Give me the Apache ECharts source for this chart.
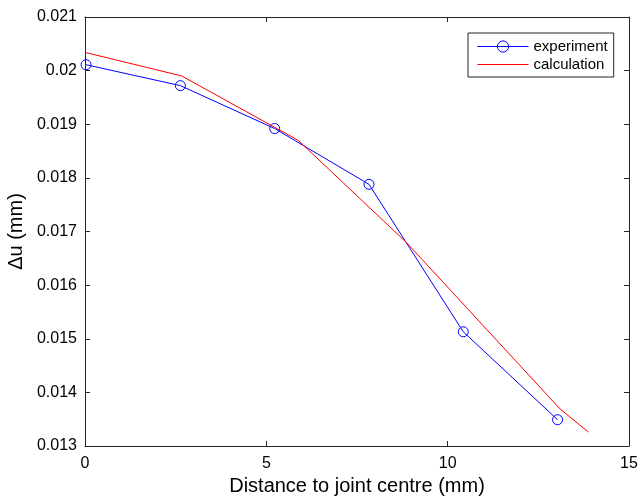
<!DOCTYPE html>
<html>
<head>
<meta charset="utf-8">
<script src="https://cdn.jsdelivr.net/npm/echarts@6/dist/echarts.min.js"></script>
<style>html,body{margin:0;padding:0;background:#fff}#c{width:640px;height:498px}</style>
</head>
<body>
<div id="c"></div>
<script>
var expX = [0.03, 2.63, 5.23, 7.83, 10.43, 13.03];
var expY = [0.02011, 0.01972, 0.01892, 0.01788, 0.01513, 0.01349];
var calcX = [0, 2.67, 5.88, 8.87, 13.1, 13.88];
var calcY = [0.02034, 0.01990, 0.01870, 0.01679, 0.01369, 0.01326];
var xTicks = [0, 5, 10, 15];
var yTicks = [0.013, 0.014, 0.015, 0.016, 0.017, 0.018, 0.019, 0.02, 0.021];

function pairs(xs, ys) { return xs.map(function (x, i) { return [x, ys[i]]; }); }

var font = 'Liberation Sans, Arial, sans-serif';
var axCol = '#262626';
var chart = echarts.init(document.getElementById('c'), null, { renderer: 'canvas' });
var baseX = {
  type: 'value', min: xTicks[0], max: xTicks[xTicks.length - 1], interval: 5,
  axisLine: { show: true, onZero: false, lineStyle: { color: axCol, width: 1 } },
  axisTick: { show: true, inside: true, length: 5, lineStyle: { color: axCol } },
  splitLine: { show: false }
};
var baseY = {
  type: 'value', min: yTicks[0], max: yTicks[yTicks.length - 1], interval: 0.001,
  axisLine: { show: true, onZero: false, lineStyle: { color: axCol, width: 1 } },
  axisTick: { show: true, inside: true, length: 5, lineStyle: { color: axCol } },
  splitLine: { show: false }
};
chart.setOption({
  animation: false,
  backgroundColor: '#fff',
  grid: { left: 85, right: 11, top: 17, bottom: 52, containLabel: false, outerBoundsMode: 'none' },
  legend: {
    orient: 'vertical', left: 468, top: 33,
    padding: [6, 6, 5, 9], itemGap: 3, itemWidth: 51, itemHeight: 14,
    borderColor: '#262626', borderWidth: 1, backgroundColor: '#fff',
    textStyle: { fontFamily: font, fontSize: 15, color: '#000', lineHeight: 15 },
    lineStyle: { width: 1 },
    data: [
      { name: 'experiment', itemStyle: { borderWidth: 1 } },
      { name: 'calculation', itemStyle: { opacity: 0 } }
    ]
  },
  xAxis: [
    Object.assign({}, baseX, {
      position: 'bottom',
      name: 'Distance to joint centre (mm)', nameLocation: 'middle', nameGap: 27,
      nameTextStyle: { fontFamily: font, fontSize: 20, color: '#000' },
      axisLabel: { show: true, margin: 10, fontFamily: font, fontSize: 16, color: '#000' }
    }),
    Object.assign({}, baseX, { position: 'top', axisLabel: { show: false } })
  ],
  yAxis: [
    Object.assign({}, baseY, {
      position: 'left',
      name: 'Δu (mm)', nameLocation: 'middle', nameGap: 55, nameRotate: 90,
      nameTextStyle: { fontFamily: font, fontSize: 20, color: '#000' },
      axisLabel: {
        show: true, margin: 8, fontFamily: font, fontSize: 16, color: '#000',
        formatter: function (v) { return String(+v.toFixed(3)); }
      }
    }),
    Object.assign({}, baseY, { position: 'right', axisLabel: { show: false } })
  ],
  series: [
    {
      name: 'experiment', type: 'line', xAxisIndex: 0, yAxisIndex: 0,
      data: pairs(expX, expY),
      symbol: 'circle', symbolSize: 10, showAllSymbol: true,
      lineStyle: { color: '#0000ff', width: 1 },
      itemStyle: { color: 'rgba(0,0,0,0)', borderColor: '#0000ff', borderWidth: 1 },
      z: 2
    },
    {
      name: 'calculation', type: 'line', xAxisIndex: 0, yAxisIndex: 0,
      data: pairs(calcX, calcY),
      symbol: 'none',
      lineStyle: { color: '#ff0000', width: 1 },
      itemStyle: { color: '#ff0000' },
      z: 3
    }
  ]
});
</script>
</body>
</html>
